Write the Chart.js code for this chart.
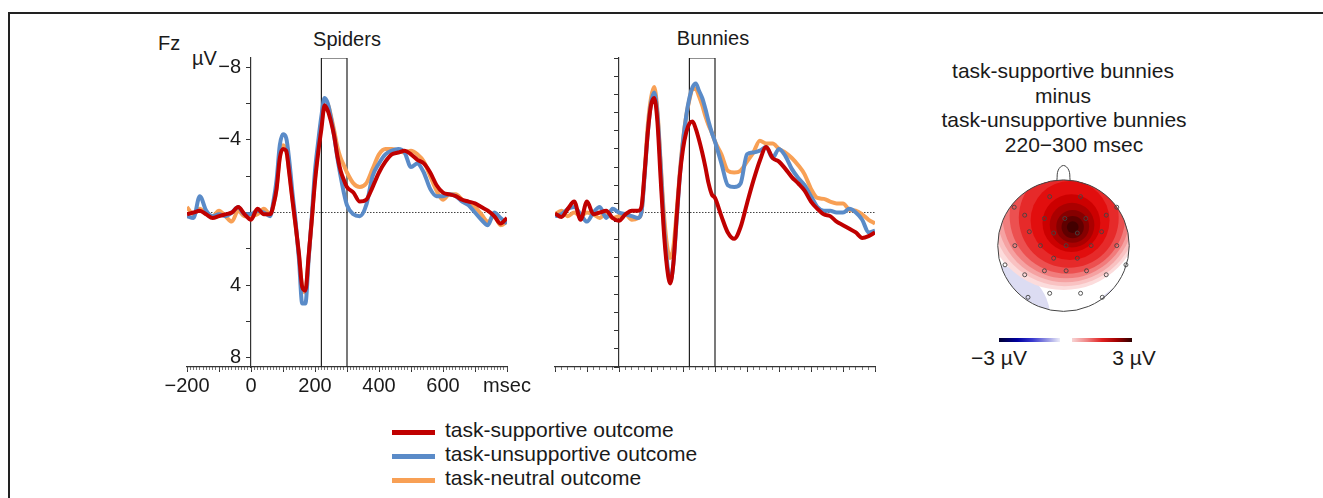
<!DOCTYPE html>
<html>
<head>
<meta charset="utf-8">
<script src="https://cdn.jsdelivr.net/npm/chart.js@4.4.1/dist/chart.umd.min.js"></script>
<style>
  body { margin: 0; width: 1323px; height: 498px; background: #fff; position: relative; overflow: hidden;
         font-family: "Liberation Sans", Arial, sans-serif; color: #1a1a1a; }
  .abs { position: absolute; }
  .txt { position: absolute; font-size: 20px; line-height: 20px; white-space: nowrap; }
  .big { font-size: 21px; line-height: 21px; }
  .ctr { transform: translateX(-50%); }
  canvas { position: absolute; }
</style>
</head>
<body>
<div class="abs" style="left:8px;top:12px;width:1330px;height:500px;border-top:2px solid #222;border-left:2px solid #222;"></div>

<div class="txt" style="left:158px;top:33px;">Fz</div>
<div class="txt" style="left:192px;top:48px;">µV</div>
<div class="txt ctr" style="left:347px;top:29px;">Spiders</div>
<div class="txt ctr" style="left:713px;top:28px;">Bunnies</div>

<canvas id="spiders" width="400" height="360" style="left:140px;top:40px;"></canvas>
<canvas id="bunnies" width="400" height="360" style="left:508px;top:40px;"></canvas>

<div class="txt big ctr" style="left:1063px;top:60px;">task-supportive bunnies</div>
<div class="txt big ctr" style="left:1063px;top:85px;">minus</div>
<div class="txt big ctr" style="left:1064px;top:109px;">task-unsupportive bunnies</div>
<div class="txt big ctr" style="left:1074px;top:134px;">220−300 msec</div>
<canvas id="topo" width="161" height="182" style="left:983px;top:148px;"></canvas>
<div class="abs" style="left:999px;top:338px;width:61px;height:4px;background:linear-gradient(to right,#000033,#0000a0 30%,#3a3ad0 55%,#9a9ae4 80%,#ececf8);"></div>
<div class="abs" style="left:1072px;top:338px;width:60px;height:4px;background:linear-gradient(to right,#f8d4d4,#f08484 25%,#e02020 50%,#a00000 75%,#300000);"></div>
<div class="txt big ctr" style="left:999px;top:347px;">−3 µV</div>
<div class="txt big ctr" style="left:1134px;top:347px;">3 µV</div>

<div id="legend"></div>

<script>
// time axis (msec) shared by every waveform
const times = [-200,-180,-160,-140,-120,-100,-80,-60,-40,-20,0,20,40,60,
  70,80,90,100,110,120,130,140,150,160,170,180,190,200,210,220,230,240,250,260,270,280,290,300,
  320,340,360,380,400,420,440,460,480,500,520,540,560,580,600,620,640,660,680,700,720,740,760,780,800];

// Fz amplitudes in µV (negative plotted up)
const spiders_supportive = [0.1,0.0,-0.1,0.1,0.3,0.2,0.1,0.0,-0.3,0.1,0.4,-0.2,0.1,0.1,
  -0.4,-1.3,-3.0,-3.5,-3.4,-2.1,-0.6,0.8,2.3,4.1,4.3,2.4,0.4,-1.7,-3.3,-4.6,-5.9,-5.6,-5.0,-4.2,-3.1,-2.3,-1.8,-1.4,
  -1.1,-0.6,-0.7,-1.4,-2.2,-2.8,-3.2,-3.3,-3.4,-3.2,-2.9,-2.7,-2.2,-1.5,-1.1,-1.0,-0.9,-0.7,-0.6,-0.5,-0.3,-0.1,0.2,0.6,0.3];
const spiders_unsupportive = [0.2,0.3,-0.9,-0.1,0.2,0.1,0.2,0.0,-0.3,0.1,0.1,-0.1,0.0,0.2,
  -0.6,-1.8,-3.7,-4.3,-4.1,-2.8,-1.0,0.6,2.6,5.0,5.0,2.6,0.2,-2.3,-3.9,-5.3,-6.3,-6.0,-5.2,-4.2,-3.0,-2.0,-1.1,-0.4,
  0.1,0.2,-0.4,-2.0,-2.7,-3.2,-3.4,-3.5,-3.3,-2.5,-2.7,-2.2,-1.3,-0.9,-0.9,-1.0,-0.9,-0.6,-0.4,0.0,0.4,0.7,0.0,0.3,0.6];
const spiders_neutral = [-0.3,0.1,-0.2,0.1,0.2,-0.1,0.2,0.5,-0.1,0.2,0.2,0.1,-0.2,0.1,
  -0.4,-1.4,-3.1,-3.7,-3.4,-2.2,-0.7,0.8,2.4,4.1,4.4,2.5,0.4,-1.9,-3.5,-4.9,-5.8,-5.9,-5.3,-4.5,-3.6,-3.0,-2.6,-2.2,
  -1.6,-1.4,-1.6,-2.4,-3.2,-3.5,-3.5,-3.4,-3.3,-3.4,-3.2,-2.8,-2.0,-1.2,-0.7,-1.0,-1.0,-0.7,-0.5,-0.3,0.1,0.5,0.2,0.7,0.5];

const bunnies_supportive = [0.05,0.25,-0.2,-0.6,0.4,-0.6,0.1,0.0,-0.1,0.3,0.45,0.1,-0.1,-0.1,
  -0.3,-2.2,-4.4,-5.9,-6.3,-5.0,-1.9,1.0,3.0,3.9,2.8,0.3,-2.0,-3.5,-4.4,-4.9,-5.0,-4.6,-4.0,-3.3,-2.5,-1.6,-1.0,-0.8,
  0.2,1.1,1.45,0.8,-0.5,-1.75,-2.85,-3.6,-3.0,-2.8,-2.4,-1.95,-1.6,-1.2,-0.6,-0.2,0.1,0.2,0.5,0.7,0.9,1.1,1.4,1.3,1.1];
const bunnies_unsupportive = [0.2,0.1,-0.2,-0.3,0.1,0.5,0.0,-0.3,0.3,-0.2,0.0,0.1,0.2,0.3,
  0.0,-2.0,-4.4,-6.0,-6.6,-5.4,-2.6,0.6,2.7,3.8,2.8,0.5,-2.0,-3.9,-5.3,-6.3,-6.9,-7.1,-6.7,-6.3,-5.7,-5.0,-4.4,-3.9,
  -2.7,-1.5,-1.4,-1.6,-3.2,-3.3,-3.4,-3.6,-3.0,-3.5,-3.1,-2.4,-1.9,-1.5,-0.9,-0.3,-0.1,-0.1,0.0,0.0,-0.2,0.0,0.4,1.1,1.0];
const bunnies_neutral = [0.1,-0.1,0.2,0.0,0.2,0.0,0.1,0.3,0.0,0.3,0.2,0.1,0.4,0.3,
  0.0,-2.2,-4.8,-6.3,-6.9,-5.6,-2.8,0.0,1.8,2.5,1.9,0.0,-2.2,-4.0,-5.3,-6.2,-6.8,-6.8,-6.4,-5.9,-5.3,-4.8,-4.4,-3.9,
  -3.2,-2.3,-2.2,-2.3,-2.8,-3.3,-3.95,-3.8,-3.8,-3.5,-3.3,-3.0,-2.6,-2.1,-1.3,-0.8,-0.75,-0.6,-0.5,-0.5,-0.15,-0.1,0.1,0.4,0.6];

const window_ms = [220, 300];   // analysis window box
const y_limits = [-8.5, 8.5];

const series_labels = ['task-supportive outcome', 'task-unsupportive outcome', 'task-neutral outcome'];
const series_colors = ['#c00000', '#5a8bc8', '#f8a055'];

// topomap: contour blobs (head units), electrode sites, nose outline
const contour_x = [0.00,0.02,0.03,0.04,0.06,0.08,0.10,0.12,0.13,0.14,0.14,0.14];
const contour_y = [0.50,0.49,0.48,0.47,0.45,0.42,0.38,0.34,0.31,0.29,0.28,0.28];
const contour_r = [1.18,1.11,1.04,0.97,0.88,0.76,0.60,0.44,0.34,0.25,0.17,0.09];
const contour_colors = ['#fcdcdc','#f9c2c2','#f5a2a2','#f17c7c','#ec5050','#e62a2a','#e20e0e','#cc0000','#aa0000','#860000','#600000','#420000'];
const neg_x = [-1.0, 0.95];
const neg_y = [-1.1, -1.05];
const neg_r = [0.8, 0.45];
const electrode_x = [-0.21,0.26,-0.75,0.81,-0.59,-0.29,0.02,0.34,0.65,-0.52,-0.15,0.21,0.58,-0.74,-0.35,0.04,0.42,0.81,
  -0.15,0.21,-0.89,0.95,-0.59,-0.29,0.04,0.35,0.65,-0.21,0.26,-0.54,0.59];
const electrode_y = [0.74,0.74,0.58,0.58,0.46,0.41,0.41,0.41,0.46,0.21,0.19,0.19,0.21,0,0,0,0,0,
  -0.19,-0.19,-0.29,-0.29,-0.44,-0.38,-0.38,-0.38,-0.44,-0.72,-0.72,-0.78,-0.78];
const nose_x = [-0.1, -0.08, 0, 0.08, 0.1];
const nose_y = [0.99, 1.14, 1.21, 1.14, 0.99];

const FONT = { family: '"Liberation Sans", Arial, sans-serif', size: 20 };
const minus = v => (v < 0 ? '\u2212' + Math.abs(v) : String(v));

function pts(values) {
    return times.map((t, i) => ({ x: t, y: values[i] }));
}

function make_erp_chart(canvas_id, series, labelled) {
    let datasets = [];
    series.forEach((vals, i) => {
        datasets.push({
            data: pts(vals), borderColor: series_colors[i], borderWidth: 4,
            pointRadius: 0, cubicInterpolationMode: 'monotone', order: i
        });
    });
    datasets.push({
        data: [{ x: times[0], y: 0 }, { x: times[times.length - 1], y: 0 }],
        borderColor: '#444', borderWidth: 1, borderDash: [1.5, 1.5], pointRadius: 0, order: 10
    });
    datasets.push({
        data: [{ x: window_ms[0], y: y_limits[1] }, { x: window_ms[0], y: y_limits[0] },
               { x: window_ms[1], y: y_limits[0] }, { x: window_ms[1], y: y_limits[1] }],
        borderColor: '#222', borderWidth: 1.2, pointRadius: 0, tension: 0, order: 9
    });

    return new Chart(document.getElementById(canvas_id), {
        type: 'line',
        data: { datasets: datasets },
        options: {
            responsive: false, animation: false, events: [],
            layout: { padding: { left: 47, top: 18, right: 33, bottom: 0 } },
            plugins: { legend: { display: false }, tooltip: { enabled: false } },
            scales: {
                x: {
                    type: 'linear', min: -200, max: 800,
                    afterFit: s => { s.height = 33; },
                    border: { color: '#333', width: 1.2 },
                    grid: { drawOnChartArea: false, tickLength: 5, color: '#333' },
                    ticks: {
                        stepSize: 100, autoSkip: false, maxRotation: 0, padding: 2, color: '#1a1a1a', font: FONT,
                        callback: v => {
                            if (!labelled) return '';
                            if (v === 800) return 'msec';
                            return v % 200 === 0 ? minus(v) : '';
                        }
                    }
                },
                x2: {
                    type: 'linear', axis: 'x', min: -200, max: 800, position: { y: y_limits[1] },
                    border: { display: false },
                    grid: { drawOnChartArea: false, tickLength: 3, color: '#555', lineWidth: 0.8 },
                    ticks: { stepSize: labelled ? 10 : 20, autoSkip: false, callback: () => '' }
                },
                y: {
                    type: 'linear', min: y_limits[0], max: y_limits[1], reverse: true, position: { x: 0 },
                    border: { color: '#333', width: 1.2 },
                    grid: { drawOnChartArea: false, tickLength: 4, color: '#333' },
                    ticks: {
                        stepSize: labelled ? 2 : 1, includeBounds: false, autoSkip: false,
                        color: '#1a1a1a', font: FONT,
                        // labels sit right-aligned on the axis line, the en space keeps them clear of it
                        callback: v => (labelled && v % 4 === 0 && v !== 0 ? minus(v) + '\u2002' : '')
                    }
                }
            }
        }
    });
}

make_erp_chart('spiders', [spiders_supportive, spiders_unsupportive, spiders_neutral], true);
make_erp_chart('bunnies', [bunnies_supportive, bunnies_unsupportive, bunnies_neutral], false);

// topomap
function head_px(chart, r) {
    let s = chart.scales.x;
    return s.getPixelForValue(r) - s.getPixelForValue(0);
}

const head_clip = {
    id: 'head_clip',
    beforeDatasetDraw(chart, args) {
        if (!chart.data.datasets[args.index].clipHead) return;
        let ctx = chart.ctx;
        ctx.save();
        ctx.beginPath();
        ctx.arc(chart.scales.x.getPixelForValue(0), chart.scales.y.getPixelForValue(0), head_px(chart, 1), 0, Math.PI * 2);
        ctx.clip();
    },
    afterDatasetDraw(chart, args) {
        if (chart.data.datasets[args.index].clipHead) chart.ctx.restore();
    }
};

new Chart(document.getElementById('topo'), {
    type: 'scatter',
    data: {
        datasets: [
            {
                data: neg_x.map((x, i) => ({ x: x, y: neg_y[i] })), clipHead: true, order: 6, clip: false,
                pointRadius: c => head_px(c.chart, neg_r[c.dataIndex]),
                pointBackgroundColor: '#dcdcf2', pointBorderWidth: 0
            },
            {
                data: contour_x.map((x, i) => ({ x: x, y: contour_y[i] })), clipHead: true, order: 5, clip: false,
                pointRadius: c => head_px(c.chart, contour_r[c.dataIndex]),
                pointBackgroundColor: contour_colors, pointBorderWidth: 0
            },
            {
                data: [{ x: 0, y: 0 }], order: 2, clip: false,
                pointRadius: c => head_px(c.chart, 1),
                pointBackgroundColor: 'rgba(0,0,0,0)', pointBorderColor: '#444', pointBorderWidth: 1
            },
            {
                data: nose_x.map((x, i) => ({ x: x, y: nose_y[i] })), showLine: true, order: 3, clip: false,
                borderColor: '#444', borderWidth: 1, pointRadius: 0, tension: 0.4
            },
            {
                data: electrode_x.map((x, i) => ({ x: x, y: electrode_y[i] })), order: 1, clip: false,
                pointRadius: 2, pointBackgroundColor: 'rgba(0,0,0,0)', pointBorderColor: '#444', pointBorderWidth: 0.9
            }
        ]
    },
    options: {
        responsive: false, animation: false, events: [],
        layout: { padding: 0 },
        plugins: { legend: { display: false }, tooltip: { enabled: false } },
        scales: {
            x: { type: 'linear', min: -1.15, max: 1.15, display: false },
            y: { type: 'linear', min: -1.2, max: 1.4, display: false }
        }
    },
    plugins: [head_clip]
});

// legend
let legend_html = '';
series_labels.forEach((lab, i) => {
    let top = 420 + i * 24;
    legend_html += '<div class="abs" style="left:392px;top:' + (top + 10) + 'px;width:43px;height:5px;background:' + series_colors[i] + ';"></div>';
    legend_html += '<div class="txt big" style="left:445px;top:' + (top - 1) + 'px;">' + lab + '</div>';
});
document.getElementById('legend').innerHTML = legend_html;
</script>
</body>
</html>
